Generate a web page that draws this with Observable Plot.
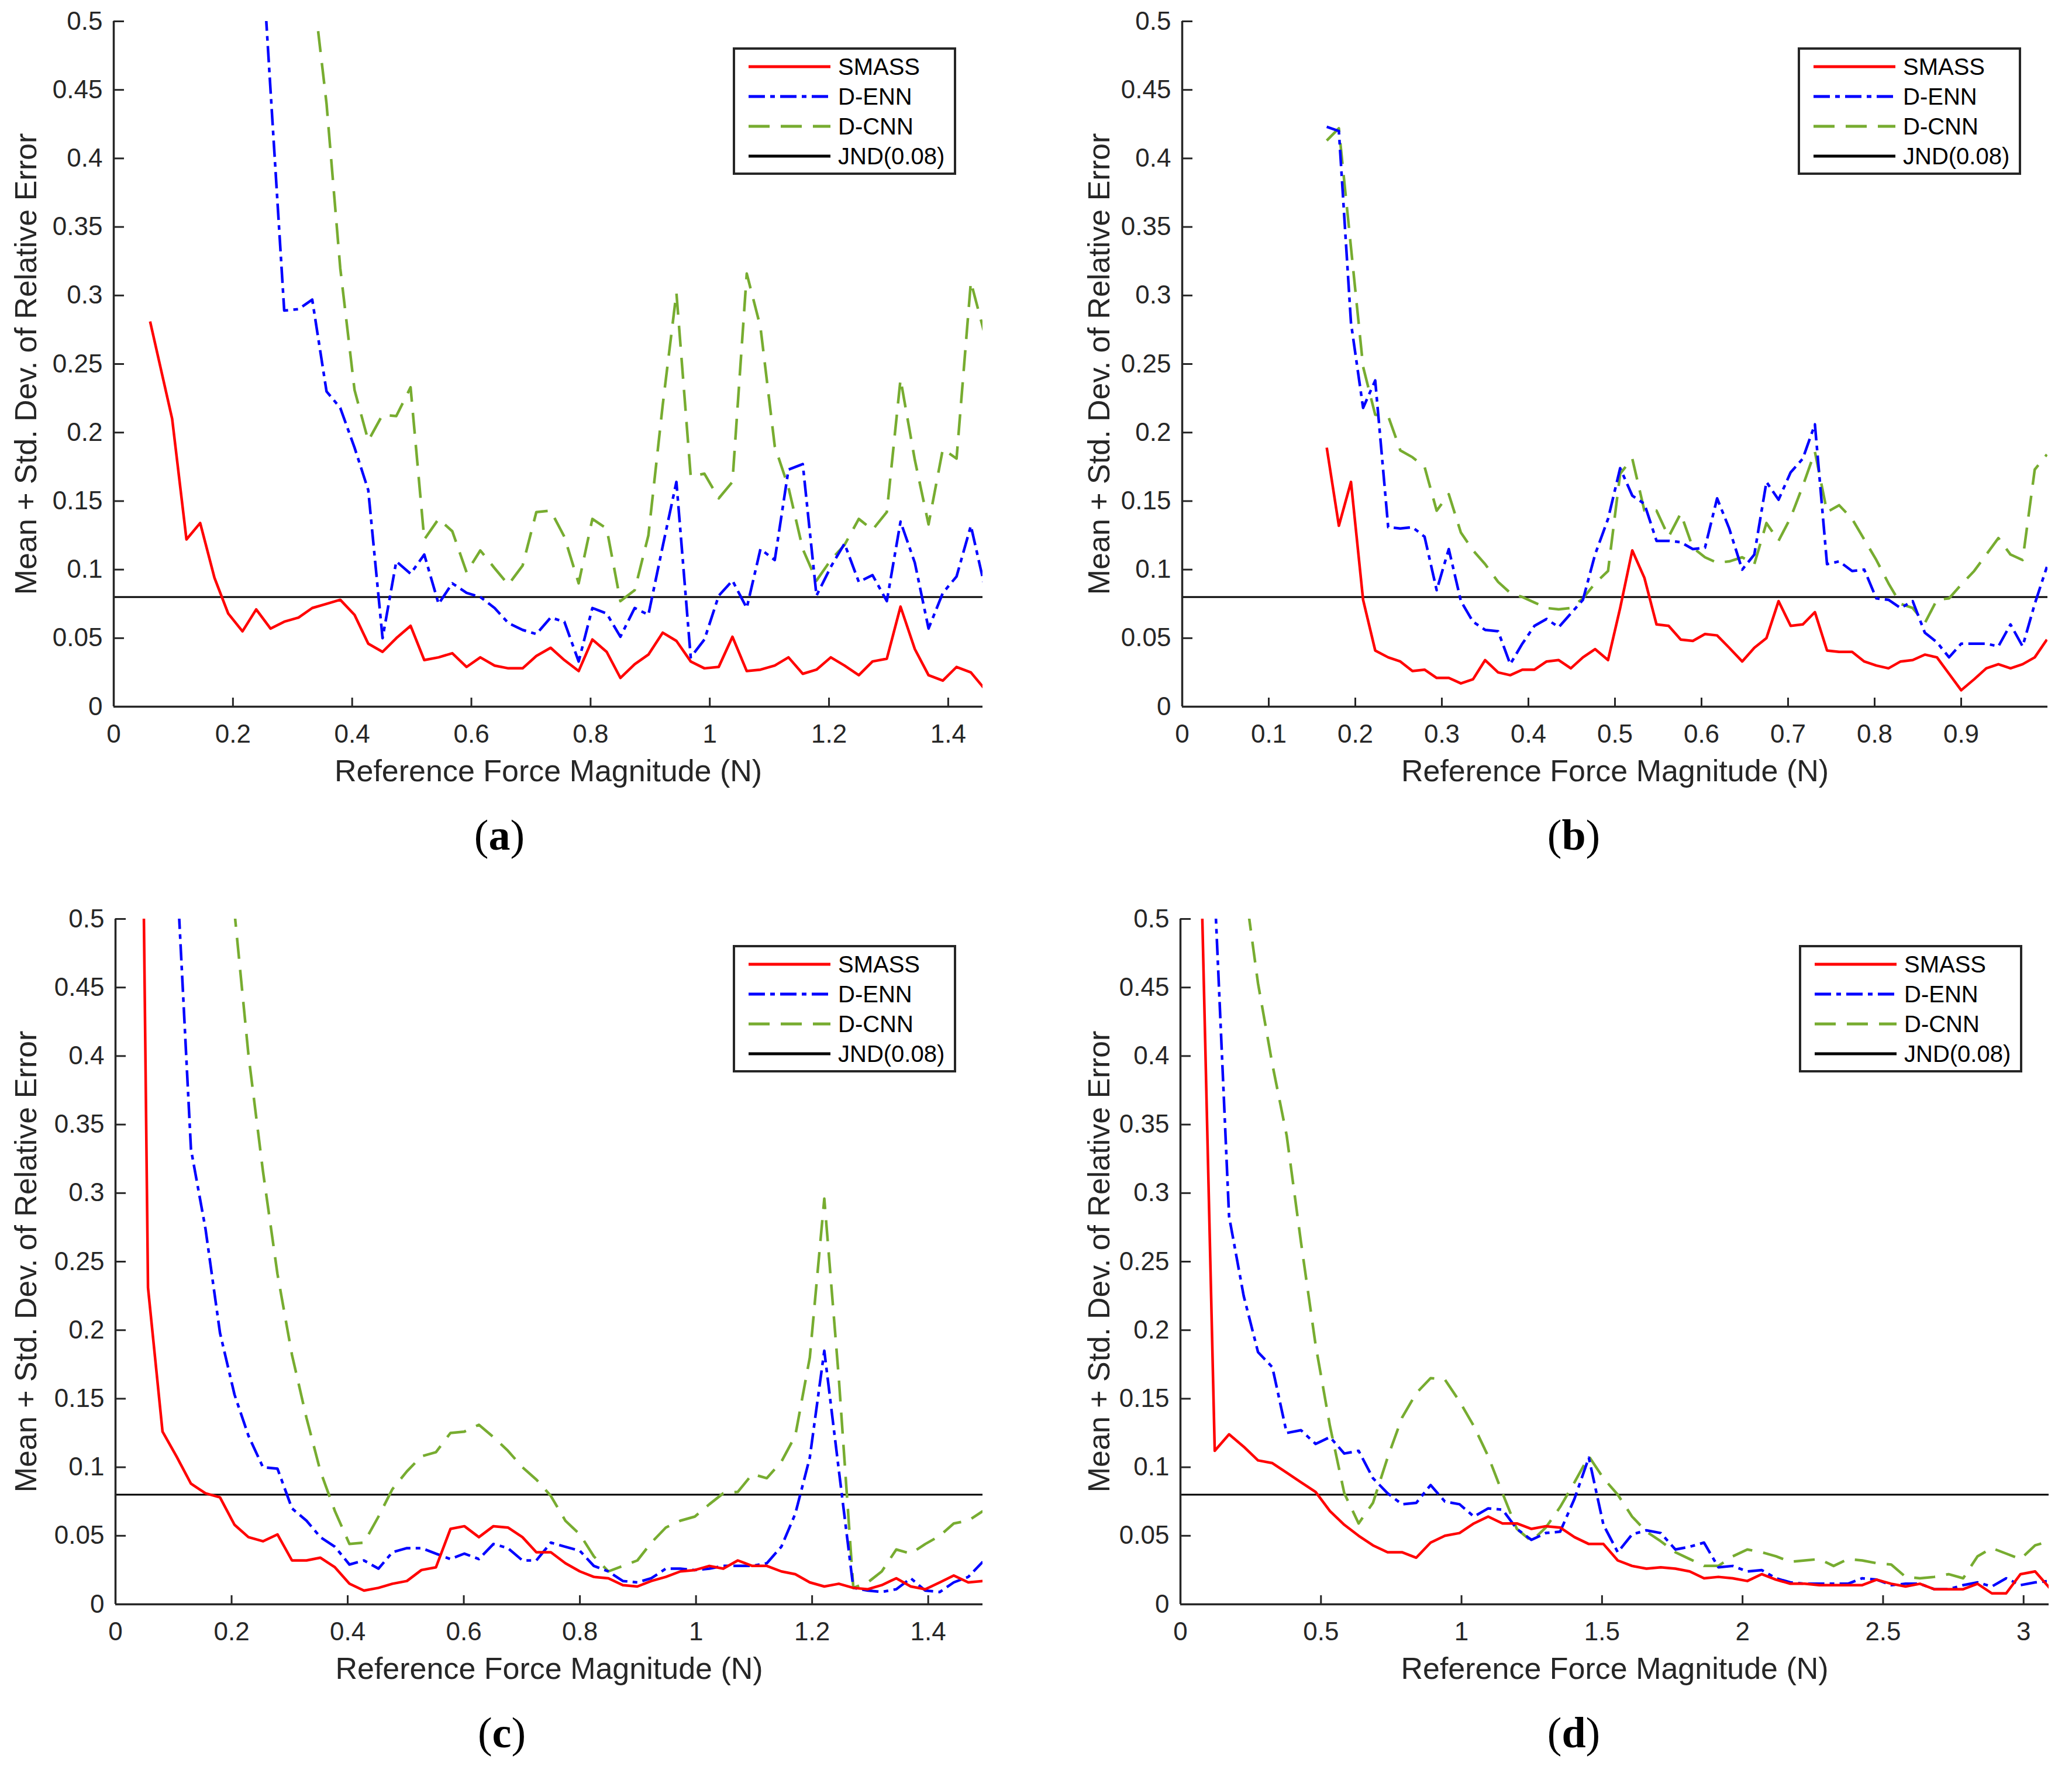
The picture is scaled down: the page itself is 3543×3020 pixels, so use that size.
<!DOCTYPE html>
<html>
<head>
<meta charset="utf-8">
<script src="https://cdn.jsdelivr.net/npm/d3@7"></script>
<script src="https://cdn.jsdelivr.net/npm/@observablehq/plot@0.6"></script>
<style>
  body { margin: 0; background: white; }
  #page { position: relative; width: 3543px; height: 3020px; background: white; font-family: "Liberation Sans", Arial, Helvetica, sans-serif; }
  .panel { position: absolute; }
  .caption { position: absolute; width: 200px; height: 90px; line-height: 90px; text-align: center;
             font-family: "Liberation Serif", "Times New Roman", serif; font-size: 74px; color: #000; }
</style>
</head>
<body>
<div id="page"></div>
<script>
// --- data ---
const seriesNames = ["SMASS", "D-ENN", "D-CNN", "JND(0.08)"]
const jnd = 0.08
const yTicks = [0, 0.05, 0.1, 0.15, 0.2, 0.25, 0.3, 0.35, 0.4, 0.45, 0.5]

// (a)
const xA = [0.061,0.098,0.122,0.145,0.169,0.192,0.216,0.239,0.263,0.286, 0.310,0.333,0.357,0.380,0.404,0.427,0.451,0.474,0.498,0.521,
  0.545,0.568,0.592,0.615,0.639,0.662,0.686,0.709,0.733,0.756, 0.780,0.803,0.827,0.850,0.874,0.897,0.921,0.944,0.968,0.991,
  1.015,1.038,1.062,1.085,1.109,1.132,1.156,1.179,1.203,1.226, 1.250,1.273,1.297,1.320,1.344,1.367,1.391,1.414,1.438,1.461]
const smassA = [0.281,0.210,0.122,0.134,0.094,0.068,0.055,0.071,0.057,0.062, 0.065,0.072,0.075,0.078,0.067,0.046,0.040,0.050,0.059,0.034,
  0.036,0.039,0.029,0.036,0.030,0.028,0.028,0.037,0.043,0.034, 0.026,0.049,0.040,0.021,0.031,0.038,0.054,0.048,0.033,0.028,
  0.029,0.051,0.026,0.027,0.030,0.036,0.024,0.027,0.036,0.030, 0.023,0.033,0.035,0.073,0.042,0.023,0.019,0.029,0.025,0.013]
const dennA = [null,null,null,null,null,null,null,0.62,0.45,0.289, 0.290,0.297,0.230,0.218,0.189,0.158,0.050,0.106,0.097,0.111,
  0.075,0.090,0.083,0.080,0.072,0.061,0.056,0.053,0.065,0.062, 0.033,0.072,0.068,0.051,0.072,0.067,0.117,0.164,0.036,0.049,
  0.081,0.092,0.072,0.115,0.107,0.173,0.177,0.081,0.102,0.119, 0.091,0.096,0.077,0.135,0.105,0.057,0.083,0.095,0.132,0.088]
const dcnnA = [null,null,null,null,null,null,null,null,null,null, 0.68,0.53,0.44,0.32,0.231,0.194,0.213,0.212,0.233,0.122,
  0.137,0.128,0.098,0.114,0.101,0.089,0.103,0.142,0.143,0.124, 0.090,0.137,0.130,0.077,0.085,0.125,0.220,0.302,0.168,0.170,
  0.152,0.164,0.316,0.277,0.190,0.160,0.115,0.092,0.107,0.118, 0.137,0.129,0.142,0.239,0.180,0.133,0.188,0.181,0.310,0.272]
const xTicksA = [0, 0.2, 0.4, 0.6, 0.8, 1, 1.2, 1.4]

// (b)
const xB = [0.167,0.181,0.195,0.209,0.223,0.238,0.252,0.266,0.280,0.294, 0.308,0.322,0.336,0.350,0.365,0.379,0.393,0.407,0.421,0.435,
  0.449,0.463,0.477,0.492,0.506,0.520,0.534,0.548,0.562,0.576, 0.590,0.604,0.618,0.632,0.647,0.661,0.675,0.689,0.703,0.717,
  0.731,0.745,0.759,0.774,0.788,0.802,0.816,0.830,0.844,0.858, 0.872,0.886,0.900,0.915,0.929,0.943,0.957,0.971,0.985,0.999]
const smassB = [0.189,0.132,0.164,0.078,0.041,0.036,0.033,0.026,0.027,0.021, 0.021,0.017,0.020,0.034,0.025,0.023,0.027,0.027,0.033,0.034,
  0.028,0.036,0.042,0.034,0.072,0.114,0.094,0.060,0.059,0.049, 0.048,0.053,0.052,0.043,0.033,0.043,0.050,0.077,0.059,0.060,
  0.069,0.041,0.040,0.040,0.033,0.030,0.028,0.033,0.034,0.038, 0.036,0.024,0.012,0.020,0.028,0.031,0.028,0.031,0.036,0.049]
const dennB = [0.423,0.420,0.280,0.218,0.238,0.131,0.130,0.131,0.124,0.085, 0.115,0.077,0.062,0.056,0.055,0.031,0.046,0.059,0.064,0.058,
  0.068,0.078,0.111,0.137,0.174,0.154,0.148,0.121,0.121,0.120, 0.115,0.116,0.152,0.130,0.100,0.111,0.164,0.151,0.171,0.181,
  0.206,0.104,0.106,0.099,0.100,0.079,0.078,0.072,0.077,0.054, 0.047,0.036,0.046,0.046,0.046,0.044,0.060,0.044,0.075,0.102]
const dcnnB = [0.413,0.422,0.335,0.248,0.213,0.212,0.187,0.182,0.175,0.143, 0.155,0.127,0.114,0.104,0.091,0.083,0.080,0.076,0.072,0.071,
  0.072,0.079,0.090,0.099,0.170,0.181,0.143,0.143,0.124,0.141, 0.116,0.109,0.105,0.106,0.109,0.104,0.134,0.121,0.138,0.161,
  0.186,0.142,0.147,0.137,0.122,0.107,0.090,0.075,0.072,0.061, 0.078,0.079,0.089,0.099,0.111,0.123,0.111,0.107,0.173,0.184]
const xTicksB = [0, 0.1, 0.2, 0.3, 0.4, 0.5, 0.6, 0.7, 0.8, 0.9]

// (c)
const xC = [0.031,0.056,0.081,0.105,0.130,0.155,0.180,0.205,0.229,0.254, 0.279,0.304,0.329,0.353,0.378,0.403,0.428,0.453,0.477,0.502,
  0.527,0.552,0.577,0.601,0.626,0.651,0.676,0.701,0.725,0.750, 0.775,0.800,0.824,0.849,0.874,0.899,0.923,0.948,0.973,0.998,
  1.023,1.047,1.072,1.097,1.122,1.147,1.171,1.196,1.221,1.246, 1.271,1.296,1.320,1.345,1.370,1.395,1.420,1.444,1.469,1.494]
const smassC = [1.18,0.231,0.126,0.108,0.088,0.081,0.078,0.058,0.049,0.046, 0.051,0.032,0.032,0.034,0.027,0.015,0.010,0.012,0.015,0.017,
  0.025,0.027,0.055,0.057,0.049,0.057,0.056,0.049,0.038,0.038, 0.030,0.024,0.020,0.019,0.014,0.013,0.017,0.020,0.024,0.025,
  0.028,0.026,0.032,0.028,0.028,0.024,0.022,0.016,0.013,0.015, 0.012,0.011,0.014,0.019,0.013,0.011,0.016,0.021,0.016,0.017]
const dennC = [null,null,0.85,0.54,0.332,0.274,0.198,0.153,0.123,0.100, 0.099,0.070,0.061,0.049,0.042,0.029,0.032,0.026,0.038,0.041,
  0.041,0.037,0.033,0.037,0.033,0.044,0.041,0.032,0.032,0.045, 0.042,0.039,0.028,0.024,0.017,0.016,0.019,0.026,0.026,0.025,
  0.026,0.028,0.028,0.028,0.030,0.042,0.066,0.107,0.185,0.098, 0.012,0.010,0.009,0.011,0.019,0.010,0.009,0.016,0.020,0.031]
const dcnnC = [null,null,null,null,null,null,0.65,0.505,0.401,0.316, 0.241,0.182,0.136,0.097,0.068,0.044,0.045,0.064,0.084,0.097,
  0.108,0.111,0.125,0.126,0.131,0.122,0.112,0.100,0.091,0.079, 0.061,0.051,0.035,0.024,0.028,0.032,0.045,0.056,0.061,0.064,
  0.073,0.081,0.082,0.095,0.092,0.104,0.123,0.180,0.296,0.165, 0.012,0.016,0.024,0.040,0.037,0.044,0.050,0.059,0.061,0.068]
const xTicksC = [0, 0.2, 0.4, 0.6, 0.8, 1, 1.2, 1.4]

// (d)
const xD = [0.071,0.122,0.173,0.225,0.276,0.327,0.378,0.429,0.481,0.532, 0.583,0.634,0.685,0.737,0.788,0.839,0.890,0.941,0.993,1.044,
  1.095,1.146,1.197,1.249,1.300,1.351,1.402,1.453,1.505,1.556, 1.607,1.658,1.709,1.761,1.812,1.863,1.914,1.965,2.017,2.068,
  2.119,2.170,2.221,2.273,2.324,2.375,2.426,2.477,2.529,2.580, 2.631,2.682,2.733,2.785,2.836,2.887,2.938,2.989,3.041,3.092]
const smassD = [0.56,0.112,0.124,0.115,0.105,0.103,0.096,0.089,0.082,0.068, 0.058,0.050,0.043,0.038,0.038,0.034,0.045,0.050,0.052,0.059,
  0.064,0.059,0.059,0.055,0.057,0.056,0.049,0.044,0.044,0.032, 0.028,0.026,0.027,0.026,0.024,0.019,0.020,0.019,0.017,0.022,
  0.018,0.015,0.015,0.014,0.014,0.014,0.014,0.018,0.015,0.013, 0.015,0.011,0.011,0.011,0.015,0.008,0.008,0.022,0.024,0.012]
const dennD = [0.9,0.52,0.283,0.225,0.184,0.173,0.125,0.127,0.117,0.122, 0.110,0.112,0.092,0.081,0.073,0.074,0.087,0.075,0.073,0.064,
  0.070,0.069,0.055,0.047,0.052,0.053,0.077,0.107,0.058,0.038, 0.051,0.054,0.052,0.040,0.042,0.045,0.027,0.028,0.024,0.025,
  0.019,0.016,0.015,0.015,0.015,0.015,0.019,0.018,0.014,0.015, 0.015,0.011,0.011,0.014,0.016,0.013,0.019,0.014,0.016,0.017]
const dcnnD = [null,null,null,0.53,0.453,0.394,0.342,0.264,0.189,0.130, 0.081,0.059,0.074,0.107,0.136,0.154,0.165,0.164,0.148,0.130,
  0.108,0.081,0.055,0.046,0.056,0.071,0.089,0.108,0.092,0.080, 0.064,0.053,0.046,0.038,0.033,0.028,0.028,0.035,0.040,0.038,
  0.035,0.031,0.032,0.033,0.028,0.033,0.032,0.030,0.029,0.020, 0.019,0.020,0.022,0.019,0.035,0.041,0.037,0.033,0.043,0.046]
const xTicksD = [0, 0.5, 1, 1.5, 2, 2.5, 3]

const xLabel = "Reference Force Magnitude (N)"
const yLabel = "Mean + Std. Dev. of Relative Error"

// --- styling ---
const colors = ["#ff0000", "#0000ff", "#77ac30", "#000000"]
const dashes = [null, "28,9,8,9", "36,19", null]
const axisColor = "#262626"

const W = 1771, H = 1380, TOP = 36, PLOT_H = 1172

const panels = [
  { id: "a", left: 0, top: 0, mL: 194, mR: 91, xmax: 1.458, x: xA, ys: [smassA, dennA, dcnnA], ticks: xTicksA, ylabDx: -149, capX: 854 },
  { id: "b", left: 1771, top: 0, mL: 250, mR: 41, xmax: 1.0, x: xB, ys: [smassB, dennB, dcnnB], ticks: xTicksB, ylabDx: -141, capX: 920 },
  { id: "c", left: 0, top: 1535, mL: 197, mR: 91, xmax: 1.494, x: xC, ys: [smassC, dennC, dcnnC], ticks: xTicksC, ylabDx: -152, capX: 858 },
  { id: "d", left: 1771, top: 1535, mL: 247, mR: 39, xmax: 3.09, x: xD, ys: [smassD, dennD, dcnnD], ticks: xTicksD, ylabDx: -138, capX: 920 },
]

const page = d3.select("#page")

panels.forEach(p => {
  let plotW = W - p.mL - p.mR

  let chart = Plot.plot({
    width: W,
    height: H,
    marginLeft: p.mL,
    marginRight: p.mR,
    marginTop: TOP,
    marginBottom: H - TOP - PLOT_H,
    x: { domain: [0, p.xmax] },
    y: { domain: [0, 0.5] },
    style: { fontFamily: '"Liberation Sans", Arial, Helvetica, sans-serif', fontSize: "44px", color: axisColor, background: "white", overflow: "visible" },
    marks: [
      // JND line
      Plot.ruleY([jnd], { stroke: colors[3], strokeWidth: 3 }),
      // series (SMASS drawn last so it sits on top)
      ...[2, 1, 0].map(k => Plot.line(p.ys[k], {
        x: p.x,
        y: d => d,
        stroke: colors[k],
        strokeWidth: 4.5,
        strokeDasharray: dashes[k],
        strokeLinecap: "butt",
        clip: true
      })),
      // axis lines, MATLAB style (left + bottom only)
      Plot.ruleX([0], { stroke: axisColor, strokeWidth: 3.5 }),
      Plot.ruleY([0], { stroke: axisColor, strokeWidth: 3.5 }),
      // inward ticks
      Plot.tickY(yTicks, { y: d => d, stroke: axisColor, strokeWidth: 3, insetRight: plotW - 18 }),
      Plot.tickX(p.ticks, { x: d => d, stroke: axisColor, strokeWidth: 3, insetTop: PLOT_H - 15 }),
      // tick labels
      Plot.axisY(yTicks, { tickSize: 0, tickPadding: 19, tickFormat: d => String(d), label: null }),
      Plot.axisX(p.ticks, { tickSize: 0, tickPadding: 30, tickFormat: d => String(d), label: null }),
      // axis titles
      Plot.text([yLabel], { text: d => d, frameAnchor: "left", textAnchor: "middle", lineAnchor: "middle",
        rotate: -90, dx: p.ylabDx, fontSize: 52, fill: axisColor }),
      Plot.text([xLabel], { text: d => d, frameAnchor: "bottom", textAnchor: "middle", lineAnchor: "middle",
        dy: 111, fontSize: 52, fill: axisColor }),
    ]
  })

  let holder = page.append("div").attr("class", "panel")
    .style("left", p.left + "px").style("top", p.top + "px")
    .style("width", W + "px").style("height", H + "px")
  holder.append(() => chart)

  // legend box in the upper right of the axes
  let boxW = 382, boxH = 218
  let box = holder.append("div")
    .style("position", "absolute")
    .style("left", (W - p.mR - 45 - boxW) + "px")
    .style("top", "81px")
    .style("width", boxW + "px").style("height", boxH + "px")
    .style("box-sizing", "border-box")
    .style("border", "4px solid " + axisColor)
    .style("background", "white")
  let lg = box.append("svg").attr("width", boxW - 8).attr("height", boxH - 8)
  seriesNames.forEach((name, i) => {
    let cy = 29 + i * 51
    lg.append("line")
      .attr("x1", 23).attr("x2", 163).attr("y1", cy).attr("y2", cy)
      .attr("stroke", colors[i]).attr("stroke-width", 5)
      .attr("stroke-dasharray", dashes[i])
    lg.append("text")
      .attr("x", 176).attr("y", cy)
      .attr("dominant-baseline", "central")
      .attr("font-family", '"Liberation Sans", Arial, Helvetica, sans-serif')
      .attr("font-size", 40).attr("fill", "#000")
      .text(name)
  })

  // sub-figure caption
  page.append("div").attr("class", "caption")
    .style("left", (p.left + p.capX - 100) + "px")
    .style("top", (p.top + 1428 - 45) + "px")
    .html("(<b>" + p.id + "</b>)")
})
</script>
</body>
</html>
